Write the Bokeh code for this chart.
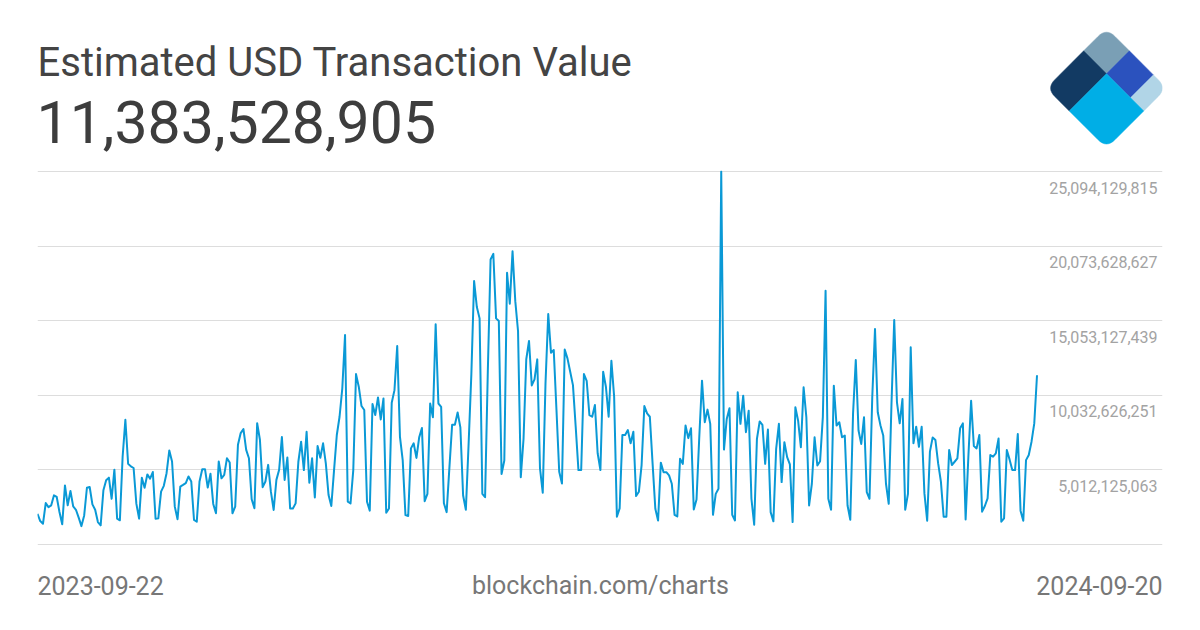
from datetime import datetime, timedelta
from bokeh.plotting import figure
from bokeh.layouts import column
from bokeh.models import Range1d
from bokeh.core.properties import value
from bokeh.embed import file_html
from bokeh.resources import INLINE

# ---------------- data ----------------
title_text = "Estimated USD Transaction Value"
source_text = "blockchain.com/charts"
start_date = datetime(2023, 9, 22)

# daily estimated USD transaction value, in billions of USD
values_bn = [
    2.06, 1.57, 1.39, 2.78, 2.51, 2.63, 3.30, 3.19, 2.18, 1.35,
    3.97, 2.63, 3.59, 2.56, 2.33, 1.80, 1.23, 1.95, 3.81, 3.86,
    2.69, 2.33, 1.50, 1.28, 3.64, 4.31, 4.49, 3.07, 5.03, 1.73,
    1.62, 5.90, 8.39, 5.43, 5.25, 5.14, 2.74, 1.73, 4.49, 3.81,
    4.71, 4.42, 4.87, 1.73, 1.75, 3.55, 3.94, 4.79, 6.32, 5.58,
    2.54, 1.69, 3.89, 4.00, 4.12, 4.57, 4.23, 1.64, 1.53, 4.23,
    5.06, 5.06, 3.82, 4.75, 2.72, 2.09, 5.58, 4.45, 4.68, 5.80,
    5.51, 2.09, 2.54, 6.70, 7.49, 7.76, 6.36, 5.80, 3.04, 2.43,
    8.16, 7.04, 3.85, 4.23, 5.35, 3.55, 2.32, 4.34, 5.02, 7.22,
    4.34, 5.85, 2.42, 2.42, 2.76, 5.56, 6.91, 5.00, 7.58, 4.15,
    5.79, 3.16, 6.62, 5.83, 6.80, 5.45, 3.32, 2.58, 5.00, 7.36,
    8.59, 10.50, 14.09, 2.87, 2.76, 5.00, 11.46, 10.61, 9.31, 9.04,
    2.87, 2.27, 9.44, 8.70, 9.89, 8.41, 9.82, 2.13, 2.42, 9.53,
    10.38, 13.35, 7.24, 5.67, 1.97, 1.91, 6.46, 6.80, 5.82, 7.20,
    7.83, 2.91, 3.40, 9.48, 8.55, 14.81, 9.48, 9.26, 2.77, 2.17,
    5.15, 8.05, 8.05, 8.88, 7.87, 3.29, 2.33, 6.76, 11.45, 17.72,
    15.97, 15.21, 3.40, 3.18, 11.68, 19.17, 19.55, 15.21, 15.03, 4.74,
    5.64, 18.28, 16.20, 19.73, 16.37, 14.36, 4.52, 7.09, 12.46, 13.69,
    10.70, 11.10, 12.45, 5.11, 3.48, 10.83, 15.50, 12.90, 13.08, 9.04,
    4.89, 4.10, 13.12, 12.52, 11.62, 10.72, 7.92, 5.00, 5.00, 11.46,
    11.01, 8.70, 8.59, 9.38, 6.12, 5.00, 11.62, 10.61, 8.59, 12.36,
    9.94, 1.86, 2.42, 7.36, 7.36, 7.69, 6.80, 7.58, 3.25, 3.54,
    5.34, 9.31, 8.81, 8.59, 5.45, 2.40, 1.60, 5.50, 4.86, 4.86,
    4.64, 4.08, 1.99, 1.88, 5.76, 5.42, 8.00, 7.15, 7.82, 2.35,
    3.02, 7.21, 11.02, 8.22, 9.07, 8.11, 1.99, 3.40, 3.74, 25.094129815,
    6.38, 8.44, 9.16, 1.99, 1.61, 10.24, 8.11, 10.01, 7.55, 9.00,
    3.07, 1.32, 7.10, 8.27, 8.04, 5.42, 7.73, 2.17, 1.55, 6.43,
    8.11, 4.19, 6.88, 5.87, 5.38, 1.50, 9.23, 8.33, 6.54, 10.57,
    8.56, 2.62, 4.08, 7.21, 5.31, 5.60, 8.56, 17.07, 3.07, 2.33,
    10.68, 8.00, 8.22, 7.21, 7.32, 2.62, 1.66, 8.78, 12.41, 7.66,
    6.76, 8.56, 3.52, 3.07, 9.90, 14.49, 8.89, 8.00, 7.32, 4.08,
    2.73, 9.45, 15.10, 9.56, 8.15, 9.79, 2.33, 3.40, 13.26, 6.80,
    7.92, 6.57, 7.92, 3.43, 1.59, 6.24, 7.20, 7.02, 5.45, 4.22,
    1.86, 1.86, 6.35, 5.34, 5.56, 5.79, 7.81, 8.14, 1.68, 5.90,
    9.67, 6.62, 6.46, 7.36, 2.20, 2.58, 3.10, 6.01, 5.90, 6.12,
    7.13, 1.53, 1.75, 6.35, 5.72, 5.00, 5.00, 7.42, 2.27, 1.59,
    5.67, 6.01, 6.91, 8.14, 11.383528905,
]
dates = [start_date + timedelta(days=i) for i in range(len(values_bn))]
values_usd = [v * 1e9 for v in values_bn]

y_ticks = [5012125063, 10032626251, 15053127439, 20073628627, 25094129815]
y_tick_labels = ["5,012,125,063", "10,032,626,251", "15,053,127,439",
                 "20,073,628,627", "25,094,129,815"]
y_floor = -8376125

latest_label = "{:,}".format(int(round(values_bn[-1] * 1e9)))

# ---------------- style / layout ----------------
FONT = value("Roboto")
W = 1200
LEFT, RIGHT = 37, 1162          # common frame edges for every panel
LINE_COLOR = "#0a99d6"
GRID_COLOR = "#dddddd"
H1 = 163                        # header height
H2 = 387                        # chart height
H3 = 630 - H1 - H2              # footer height

def panel(height, y_top, y_bottom):
    f = figure(width=W, height=height, x_range=Range1d(LEFT, RIGHT),
               y_range=Range1d(y_bottom, y_top),
               toolbar_location=None, output_backend="svg",
               x_axis_location=None, y_axis_location=None,
               min_border_left=LEFT, min_border_right=W - RIGHT,
               min_border_top=0, min_border_bottom=0, outline_line_color=None)
    f.grid.visible = False
    return f

# ---------------- header ----------------
header = panel(H1, 0, H1)
header.text(x=[37], y=[62], text=[title_text], text_font=FONT,
            text_font_size="40px", text_color="#444444",
            text_baseline="middle", text_align="left")
header.text(x=[36], y=[121], text=[latest_label], text_font=FONT,
            text_font_size="59px", text_color="#3d3d3d",
            text_baseline="middle", text_align="left")

# logo: a rounded diamond split into five tiles
def rounded_poly(pts, round_idx, r, n=8):
    out = []
    m = len(pts)
    for k in range(m):
        cx, cy = pts[k]
        if k not in round_idx:
            out.append((cx, cy))
            continue
        px, py = pts[k - 1]
        nx, ny = pts[(k + 1) % m]
        def towards(ax, ay):
            dx, dy = ax - cx, ay - cy
            d = (dx * dx + dy * dy) ** 0.5
            return cx + r * dx / d, cy + r * dy / d
        s = towards(px, py)
        e = towards(nx, ny)
        for j in range(n + 1):
            t = j / n
            x = (1 - t) ** 2 * s[0] + 2 * (1 - t) * t * cx + t ** 2 * e[0]
            y = (1 - t) ** 2 * s[1] + 2 * (1 - t) * t * cy + t ** 2 * e[1]
            out.append((x, y))
    return out

TX, TY, SIDE = 1106.0, 27.5, 85.0
S2 = 2 ** 0.5
def ab_to_xy(a, b):
    return TX + SIDE * (a - b) / S2, TY + SIDE * (a + b) / S2

tiles = [
    # (a0, a1, b0, b1, rounded corner index, colour)
    (0.00, 0.38, 0.00, 0.38, [0], "#7a9fb5"),
    (0.00, 0.38, 0.38, 1.00, [3], "#123a63"),
    (0.38, 0.78, 0.00, 0.38, [], "#2b52be"),
    (0.78, 1.00, 0.00, 0.38, [1], "#b1d5e7"),
    (0.38, 1.00, 0.38, 1.00, [2], "#00aee6"),
]
xs, ys, cols = [], [], []
for a0, a1, b0, b1, rc, col in tiles:
    corners = [(a0, b0), (a1, b0), (a1, b1), (a0, b1)]
    poly = rounded_poly(corners, rc, 0.14)
    pts = [ab_to_xy(a, b) for a, b in poly]
    xs.append([q[0] for q in pts])
    ys.append([q[1] for q in pts])
    cols.append(col)
header.patches(xs, ys, fill_color=cols, line_color=cols, line_width=0.5)

# ---------------- main chart ----------------
x_end = dates[0] + timedelta(days=409.7)
px_val = (y_ticks[-1] - y_floor) / 373.0       # value per pixel
p = figure(width=W, height=H2, x_axis_type="datetime",
           x_axis_location=None, y_axis_location=None,
           x_range=Range1d(dates[0], x_end),
           y_range=Range1d(y_floor - px_val, y_ticks[-1] + px_val),
           toolbar_location=None, output_backend="svg",
           min_border_left=LEFT, min_border_right=W - RIGHT,
           min_border_top=7, min_border_bottom=5,
           outline_line_color=None)
p.grid.visible = False
p.hspan(y=[y_floor] + y_ticks, line_color=GRID_COLOR, line_width=1)
p.line(dates, values_usd, line_color=LINE_COLOR, line_width=2, line_join="round")
p.text(x=[x_end] * len(y_ticks), y=y_ticks, text=y_tick_labels,
       text_align="right", text_baseline="middle", x_offset=-5, y_offset=16,
       text_font=FONT, text_font_size="16px", text_color="#a3a3a3")

# ---------------- footer ----------------
footer = panel(H3, H1 + H2, 630)
foot_kw = dict(text_font=FONT, text_font_size="25px", text_color="#777777",
               text_baseline="middle")
footer.text(x=[37], y=[585], text=[dates[0].strftime("%Y-%m-%d")], text_align="left", **foot_kw)
footer.text(x=[600], y=[585], text=[source_text], text_align="center", **foot_kw)
footer.text(x=[1162], y=[585], text=[dates[-1].strftime("%Y-%m-%d")], text_align="right", **foot_kw)

layout = column(header, p, footer, spacing=0)
open("out.html", "w").write(file_html(layout, INLINE))
